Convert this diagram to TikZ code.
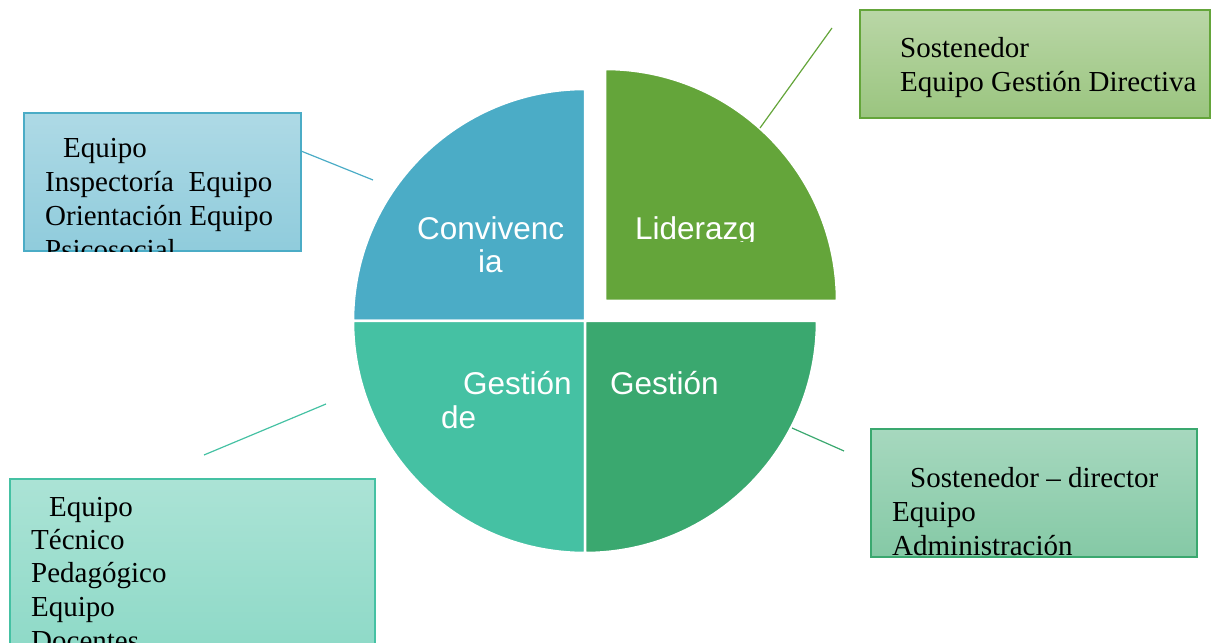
\documentclass[tikz,border=0pt]{standalone}
\usepackage{fontspec}
\setmainfont{Liberation Serif}
\setsansfont{Liberation Sans}
\usetikzlibrary{positioning}

\definecolor{conviv}{HTML}{4BACC6}
\definecolor{lider}{HTML}{64A53A}
\definecolor{gestadm}{HTML}{3AA86F}
\definecolor{gestped}{HTML}{45C1A3}

\tikzset{
  quad/.style={draw=white, line width=2.5pt},
  qlabel/.style={text=white, font=\sffamily\fontsize{31.5}{35}\selectfont, anchor=base west, inner sep=0pt},
  boxline/.style={font=\fontsize{29}{34}\selectfont, anchor=base west, inner sep=0pt},
  infobox/.style={line width=1.5pt, inner sep=0pt},
  link/.style={line width=1.2pt},
}

\begin{document}
\begin{tikzpicture}[x=1pt,y=1pt]
		\useasboundingbox (0,0) rectangle (1211,643);
		
		%%%%% quadrants %%%%%
		\fill[conviv, quad] (585,322) -- (353,322) arc (180:90:232) -- cycle;
		\fill[gestped, quad] (585,322) -- (585,90) arc (270:180:232) -- cycle;
		\fill[gestadm, quad] (585,322) -- (817,322) arc (0:-90:232) -- cycle;
		\fill[lider, quad] (605,342) -- (605,574) arc (90:0:232) -- cycle;
		
		\node[qlabel] (convA) at (417,403) {Convivenc};
		\node[qlabel] (convB) at (478,370) {ia};
		\begin{scope}
			\clip (605,401) rectangle (837,574);
			\node[qlabel] (lidA) at (635,403) {Liderazg};
		\end{scope}
		\node[qlabel] (pedA) at (463,248) {Gestión};
		\node[qlabel] (pedB) at (441,214) {de};
		\node[qlabel] (admA) at (610,248) {Gestión};
		
		%%%%% boxes %%%%%
		\node[infobox, draw=lider, top color=lider!45!white, bottom color=lider!65!white,
			minimum width=350pt, minimum height=108pt] (lidbox) at (1035,579) {};
		\node[boxline] at (900,585) {Sostenedor};
		\node[boxline] at (900,551) {Equipo Gestión Directiva};
		
		\node[infobox, draw=conviv, top color=conviv!45!white, bottom color=conviv!62!white,
			minimum width=277pt, minimum height=138pt] (convbox) at (162.5,461) {};
		\begin{scope}
			\clip (convbox.south west) rectangle (convbox.north east);
			\node[boxline] at (63,485) {Equipo};
			\node[boxline] at (45,451) {Inspectoría\ \ Equipo};
			\node[boxline] at (45,417) {Orientación Equipo};
			\node[boxline] at (45,383) {Psicosocial};
		\end{scope}
		
		\node[infobox, draw=gestadm, top color=gestadm!45!white, bottom color=gestadm!62!white,
			minimum width=326pt, minimum height=128pt] (admbox) at (1034,150) {};
		\node[boxline] at (910,155) {Sostenedor -- director};
		\node[boxline] at (892,121) {Equipo};
		\node[boxline] at (892,87) {Administración};
		
		\node[infobox, draw=gestped, top color=gestped!45!white, bottom color=gestped!62!white,
			minimum width=365pt, minimum height=184pt] (pedbox) at (192.5,72) {};
		\node[boxline] at (49,126) {Equipo};
		\node[boxline] at (31,93) {Técnico};
		\node[boxline] at (31,60) {Pedagógico};
		\node[boxline] at (31,26) {Equipo};
		\node[boxline] at (31,-7) {Docentes};
		
		%%%%% links %%%%%
		\coordinate (lidarc) at (760,515);
		\coordinate (lidend) at (832,615);
		\coordinate (convarc) at (373,463);
		\coordinate (convend) at (301,492);
		\coordinate (pedarc) at (326,239);
		\coordinate (pedend) at (204,188);
		\coordinate (admarc) at (792,215);
		\coordinate (admend) at (844,192);
		\draw[link, lider] (lidarc) -- (lidend);
		\draw[link, conviv] (convend) -- (convarc);
		\draw[link, gestped] (pedarc) -- (pedend);
		\draw[link, gestadm] (admarc) -- (admend);
		
	\end{tikzpicture}
\end{document}
